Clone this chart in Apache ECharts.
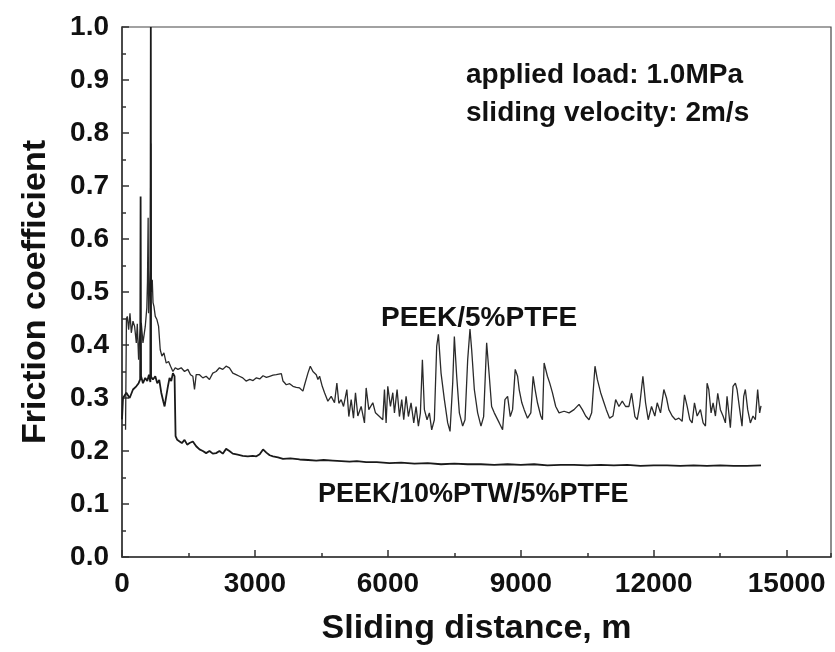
<!DOCTYPE html>
<html>
<head>
<meta charset="utf-8">
<script src="https://cdn.jsdelivr.net/npm/echarts@6/dist/echarts.min.js"></script>
<style>
html,body{margin:0;padding:0;background:#fff;}
#chart{width:835px;height:652px;}
</style>
</head>
<body>
<div id="chart"></div>
<script>
// ---- data (sliding distance in m, friction coefficient) ----
const xTickLabels = ['0', '3000', '6000', '9000', '12000', '15000'];
const yTickLabels = ['0.0','0.1','0.2','0.3','0.4','0.5','0.6','0.7','0.8','0.9','1.0'];
const seriesNames = ['PEEK/5%PTFE', 'PEEK/10%PTW/5%PTFE'];
const annotationLines = ['applied load: 1.0MPa', 'sliding velocity: 2m/s'];

const peek5ptfe = [
[80,0.24],[100,0.45],[120,0.454],[150,0.429],[180,0.46],[210,0.423],[248,0.445],[285,0.435],[323,0.404],[345,0.44],
[375,0.372],[398,0.415],[435,0.442],[473,0.404],[525,0.435],[560,0.47],[575,0.52],[590,0.64],[600,0.46],[620,0.50],
[638,0.542],[650,0.78],[660,0.50],[683,0.523],[700,0.48],[721,0.473],[751,0.454],[788,0.448],[826,0.435],[863,0.391],
[901,0.379],[946,0.385],[998,0.366],[1051,0.369],[1096,0.36],[1149,0.35],[1201,0.357],[1261,0.354],[1336,0.357],[1411,0.35],
[1486,0.354],[1546,0.344],[1599,0.341],[1636,0.316],[1674,0.344],[1749,0.344],[1824,0.338],[1899,0.341],[1974,0.335],[2049,0.347],
[2124,0.35],[2199,0.357],[2274,0.354],[2349,0.36],[2424,0.357],[2500,0.347],[2575,0.344],[2650,0.341],[2725,0.338],[2800,0.332],
[2883,0.335],[2958,0.333],[3033,0.338],[3108,0.336],[3183,0.342],[3258,0.339],[3333,0.341],[3408,0.343],[3483,0.344],[3596,0.346],
[3633,0.332],[3708,0.325],[3783,0.327],[3858,0.322],[3933,0.32],[4008,0.319],[4083,0.313],[4121,0.325],[4196,0.347],[4249,0.36],
[4309,0.35],[4384,0.344],[4421,0.335],[4459,0.341],[4519,0.322],[4571,0.31],[4646,0.294],[4721,0.303],[4796,0.291],[4849,0.328],
[4894,0.29],[4946,0.297],[4999,0.284],[5074,0.316],[5119,0.265],[5172,0.297],[5224,0.262],[5269,0.31],[5322,0.266],[5397,0.284],
[5472,0.253],[5510,0.319],[5570,0.278],[5660,0.291],[5720,0.272],[5810,0.265],[5885,0.259],[5923,0.316],[5960,0.253],[5998,0.322],
[6058,0.284],[6111,0.31],[6148,0.272],[6208,0.316],[6261,0.265],[6313,0.297],[6358,0.259],[6411,0.303],[6463,0.265],[6523,0.291],
[6584,0.253],[6636,0.284],[6689,0.247],[6734,0.272],[6779,0.372],[6824,0.278],[6884,0.259],[6937,0.272],[6989,0.24],[7049,0.259],
[7102,0.398],[7140,0.42],[7200,0.347],[7275,0.297],[7350,0.253],[7403,0.237],[7463,0.328],[7500,0.416],[7553,0.341],[7613,0.272],
[7688,0.247],[7741,0.259],[7801,0.372],[7853,0.43],[7891,0.391],[7951,0.316],[8026,0.272],[8101,0.247],[8161,0.265],[8229,0.404],
[8289,0.341],[8341,0.284],[8401,0.272],[8514,0.253],[8589,0.24],[8642,0.297],[8702,0.303],[8762,0.265],[8814,0.278],[8874,0.354],
[8927,0.341],[8963,0.316],[9023,0.291],[9076,0.278],[9151,0.262],[9226,0.272],[9278,0.341],[9323,0.316],[9376,0.291],[9451,0.266],
[9488,0.259],[9526,0.366],[9563,0.363],[9601,0.341],[9653,0.328],[9713,0.31],[9788,0.284],[9863,0.272],[9976,0.275],[10089,0.272],
[10201,0.278],[10314,0.288],[10389,0.278],[10464,0.266],[10539,0.259],[10599,0.272],[10674,0.36],[10727,0.335],[10802,0.31],[10877,0.291],
[10929,0.278],[11004,0.262],[11080,0.266],[11140,0.297],[11215,0.284],[11290,0.294],[11365,0.284],[11440,0.284],[11500,0.309],[11575,0.265],
[11627,0.259],[11680,0.284],[11755,0.341],[11815,0.291],[11875,0.259],[11950,0.284],[12025,0.266],[12078,0.291],[12153,0.272],[12228,0.316],
[12288,0.3],[12341,0.278],[12416,0.266],[12491,0.259],[12566,0.262],[12641,0.256],[12694,0.306],[12754,0.284],[12814,0.259],[12866,0.253],
[12919,0.291],[12979,0.266],[13054,0.278],[13114,0.253],[13167,0.247],[13204,0.328],[13242,0.316],[13294,0.272],[13339,0.291],[13392,0.266],
[13444,0.309],[13504,0.278],[13564,0.266],[13617,0.253],[13654,0.303],[13729,0.244],[13789,0.322],[13842,0.328],[13880,0.316],[13940,0.278],
[13992,0.247],[14030,0.303],[14067,0.316],[14120,0.278],[14180,0.253],[14240,0.266],[14293,0.259],[14345,0.316],[14390,0.272],[14420,0.285]
];

const peek10ptw5ptfe = [
[0,0.26],[23,0.30],[98,0.31],[173,0.30],[248,0.316],[323,0.322],[375,0.328],[410,0.335],[420,0.68],[430,0.341],
[473,0.328],[525,0.338],[570,0.332],[608,0.344],[640,0.33],[650,1.0],[656,0.34],[698,0.335],[751,0.341],[796,0.328],
[841,0.334],[886,0.31],[931,0.294],[961,0.284],[998,0.303],[1036,0.322],[1073,0.338],[1111,0.332],[1149,0.347],[1186,0.341],
[1209,0.228],[1246,0.221],[1299,0.218],[1351,0.215],[1411,0.221],[1471,0.212],[1524,0.215],[1599,0.218],[1674,0.209],[1749,0.203],
[1824,0.2],[1899,0.196],[1974,0.2],[2049,0.195],[2124,0.196],[2199,0.2],[2274,0.195],[2349,0.204],[2424,0.2],[2500,0.195],
[2612,0.193],[2725,0.191],[2838,0.19],[2950,0.191],[3033,0.19],[3108,0.194],[3183,0.203],[3258,0.197],[3333,0.192],[3408,0.19],
[3520,0.188],[3633,0.185],[3800,0.186],[4008,0.184],[4200,0.183],[4384,0.182],[4550,0.183],[4759,0.182],[4950,0.181],[5135,0.18],
[5300,0.181],[5510,0.179],[5750,0.179],[6035,0.177],[6300,0.178],[6600,0.176],[6900,0.177],[7200,0.175],[7500,0.176],[7800,0.175],
[8100,0.175],[8400,0.174],[8700,0.175],[9000,0.174],[9300,0.175],[9600,0.173],[9900,0.174],[10200,0.174],[10500,0.173],[10800,0.174],
[11100,0.173],[11400,0.174],[11700,0.172],[12000,0.173],[12300,0.173],[12600,0.172],[12900,0.173],[13200,0.172],[13500,0.173],[13800,0.172],
[14100,0.172],[14420,0.173]
];

const FONT = '"Liberation Sans", Arial, sans-serif';
const chart = echarts.init(document.getElementById('chart'), null, {renderer: 'canvas'});

chart.setOption({
  backgroundColor: '#fff',
  animation: false,
  grid: {left: 122, top: 27, width: 709, height: 530, show: true, borderColor: '#444', borderWidth: 1.2, backgroundColor: 'transparent'},
  xAxis: [{
    type: 'value', min: 0, max: 16000, interval: 3000,
    name: 'Sliding distance, m', nameLocation: 'middle', nameGap: 55,
    nameTextStyle: {fontFamily: FONT, fontWeight: 'bold', fontSize: 34, color: '#111'},
    axisLine: {show: true, lineStyle: {color: '#333', width: 1.5}},
    axisTick: {show: true, inside: true, length: 7, lineStyle: {color: '#333', width: 1.5}},
    axisLabel: {
      showMaxLabel: false, margin: 13, fontFamily: FONT, fontWeight: 'bold', fontSize: 28, color: '#111',
      formatter: v => { const i = Math.round(v / 3000); return (v % 3000 === 0 && xTickLabels[i] !== undefined) ? xTickLabels[i] : ''; }
    },
    splitLine: {show: false}
  }, {
    type: 'value', min: 0, max: 16000, interval: 1500, position: 'bottom', gridIndex: 0,
    axisLine: {show: false},
    axisTick: {show: true, inside: true, length: 4, lineStyle: {color: '#333', width: 1.5}},
    axisLabel: {show: false},
    splitLine: {show: false}
  }],
  yAxis: {
    type: 'value', min: 0, max: 1, interval: 0.1,
    name: 'Friction coefficient', nameLocation: 'middle', nameGap: 69,
    nameTextStyle: {fontFamily: FONT, fontWeight: 'bold', fontSize: 34, color: '#111'},
    axisLine: {show: true, lineStyle: {color: '#333', width: 1.5}},
    axisTick: {show: true, inside: true, length: 7, lineStyle: {color: '#333', width: 1.5}},
    minorTick: {show: true, splitNumber: 2, length: 4, lineStyle: {color: '#333', width: 1.5}},
    axisLabel: {
      margin: 13, fontFamily: FONT, fontWeight: 'bold', fontSize: 28, color: '#111',
      formatter: v => yTickLabels[Math.round(v * 10)]
    },
    splitLine: {show: false}, minorSplitLine: {show: false}
  },
  series: [{
    name: seriesNames[0], type: 'line', data: peek5ptfe, xAxisIndex: 0,
    showSymbol: false, symbol: 'none', lineStyle: {color: '#2a2a2a', width: 1.3}, clip: true
  }, {
    name: seriesNames[1], type: 'line', data: peek10ptw5ptfe, xAxisIndex: 0,
    showSymbol: false, symbol: 'none', lineStyle: {color: '#1a1a1a', width: 1.8}, clip: true
  }],
  graphic: [
    {type: 'text', left: 466, top: 61, style: {text: annotationLines[0], font: 'bold 28px ' + FONT, fill: '#111'}},
    {type: 'text', left: 466, top: 99, style: {text: annotationLines[1], font: 'bold 28px ' + FONT, fill: '#111'}},
    {type: 'text', left: 381, top: 304, style: {text: seriesNames[0], font: 'bold 28px ' + FONT, fill: '#111'}},
    {type: 'text', left: 318, top: 481, style: {text: seriesNames[1], font: 'bold 27px ' + FONT, fill: '#111'}}
  ]
});
</script>
</body>
</html>
